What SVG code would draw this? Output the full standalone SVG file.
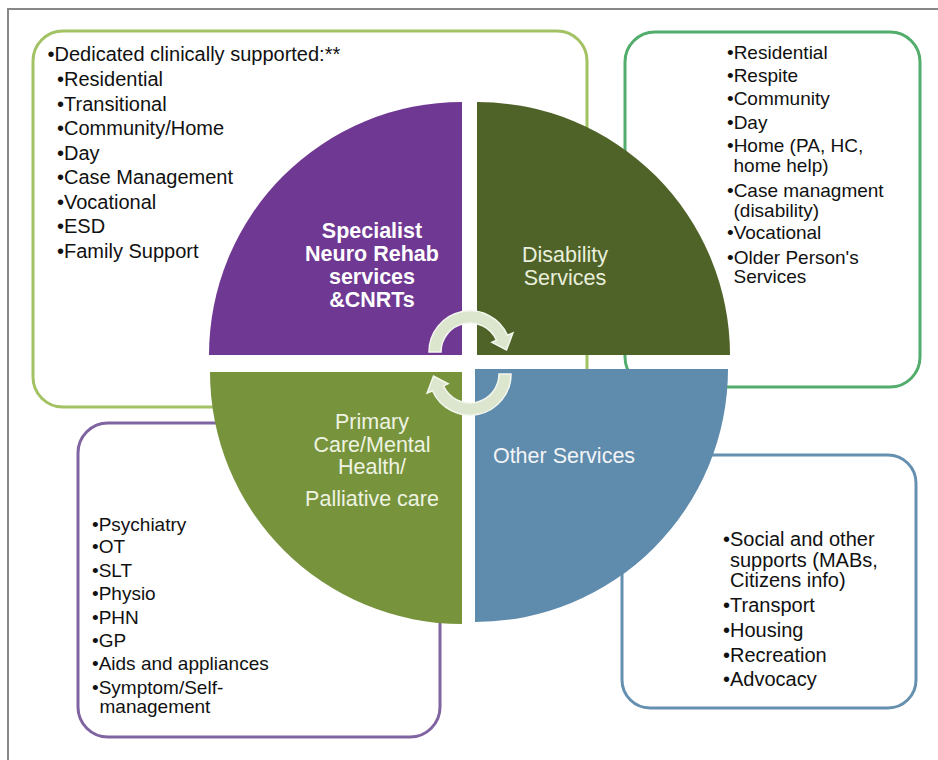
<svg xmlns="http://www.w3.org/2000/svg" width="938" height="760" viewBox="0 0 938 760">
<style>
.box{fill:none;stroke-width:3}
.t{font-family:"Liberation Sans",Arial,sans-serif;fill:#111}
.t20{font-size:20px}
.t19{font-size:19px}
.q{font-family:"Liberation Sans",Arial,sans-serif;font-size:21.5px;text-anchor:middle}
.arrow{fill:#DCE6CF;stroke:#F3F7EE;stroke-width:1.5}
</style>
<rect x="0" y="0" width="938" height="760" fill="#fff"/>
<rect x="8" y="9" width="945" height="770" fill="none" stroke="#888" stroke-width="2"/>

<g id="box-specialist">
<rect class="box" x="33" y="31" width="554" height="376" rx="30" stroke="#A2C263"/>
<g class="t t20">
<text x="47.5" y="61">•Dedicated clinically supported:**</text>
<text x="57" y="86">•Residential</text>
<text x="57" y="110.5">•Transitional</text>
<text x="57" y="135">•Community/Home</text>
<text x="57" y="159.5">•Day</text>
<text x="57" y="184">•Case Management</text>
<text x="57" y="208.5">•Vocational</text>
<text x="57" y="233">•ESD</text>
<text x="57" y="257.5">•Family Support</text>
</g>
</g>

<g id="box-disability">
<rect class="box" x="625" y="32" width="295" height="355" rx="30" stroke="#52AD6D"/>
<g class="t t19">
<text x="727" y="58.5">•Residential</text>
<text x="727" y="81.8">•Respite</text>
<text x="727" y="105">•Community</text>
<text x="727" y="128.5">•Day</text>
<text x="727" y="151.8">•Home (PA, HC,</text>
<text x="733.5" y="171.8">home help)</text>
<text x="727" y="196.8">•Case managment</text>
<text x="733.5" y="216.8">(disability)</text>
<text x="727" y="239">•Vocational</text>
<text x="727" y="263.5">•Older Person's</text>
<text x="733.5" y="282.8">Services</text>
</g>
</g>

<g id="box-primary">
<rect class="box" x="78" y="423" width="362" height="314" rx="30" stroke="#8064A2"/>
<g class="t t19">
<text x="92" y="530.5">•Psychiatry</text>
<text x="92" y="553.3">•OT</text>
<text x="92" y="576.5">•SLT</text>
<text x="92" y="600">•Physio</text>
<text x="92" y="623.5">•PHN</text>
<text x="92" y="646.5">•GP</text>
<text x="92" y="670">•Aids and appliances</text>
<text x="92" y="694">•Symptom/Self-</text>
<text x="99.5" y="713">management</text>
</g>
</g>

<g id="box-other">
<rect class="box" x="622" y="455" width="294" height="253" rx="28" stroke="#6590B0"/>
<g class="t t20">
<text x="723" y="545.5">•Social and other</text>
<text x="730" y="566.5">supports (MABs,</text>
<text x="730" y="587">Citizens info)</text>
<text x="723" y="612">•Transport</text>
<text x="723" y="637">•Housing</text>
<text x="723" y="662">•Recreation</text>
<text x="723" y="685.5">•Advocacy</text>
</g>
</g>

<g id="quadrant-specialist">
<path d="M462,355 L209,355 A253,253 0 0 1 462,102 Z" fill="#6F3893"/>
<g class="q" fill="#fff" font-weight="bold">
<text x="372" y="237.5">Specialist</text>
<text x="372" y="261">Neuro Rehab</text>
<text x="372" y="284">services</text>
<text x="372" y="306.5">&amp;CNRTs</text>
</g>
</g>

<g id="quadrant-disability">
<path d="M477,355 L477,102 A253,253 0 0 1 730,355 Z" fill="#4F6228"/>
<g class="q" fill="#E9EFDC">
<text x="565" y="262">Disability</text>
<text x="565" y="285">Services</text>
</g>
</g>

<g id="quadrant-primary">
<path d="M462,372 L462,624 A252,252 0 0 1 210,372 Z" fill="#77933C"/>
<g class="q" fill="#EEF3E2">
<text x="372" y="429">Primary</text>
<text x="372" y="451.5">Care/Mental</text>
<text x="372" y="474">Health/</text>
<text x="372" y="506">Palliative care</text>
</g>
</g>

<g id="quadrant-other">
<path d="M475,369 L728,369 A253,253 0 0 1 475,622 Z" fill="#5F8BAD"/>
<text class="q" x="564" y="462.5" fill="#F2F4F6">Other Services</text>
</g>

<g id="connectors">
<path class="arrow" d="M429,352 A41,41 0 0 1 507.5,335.3 L512.9,332.9 L506.5,350 L491.9,342.2 L496.5,340.2 A29,29 0 0 0 441,352 Z"/>
<path class="arrow" d="M511,374 A41,41 0 0 1 432.5,390.7 L427.1,393.1 L433.5,376 L448.1,383.8 L443.5,385.8 A29,29 0 0 0 499,374 Z"/>
</g>
</svg>
